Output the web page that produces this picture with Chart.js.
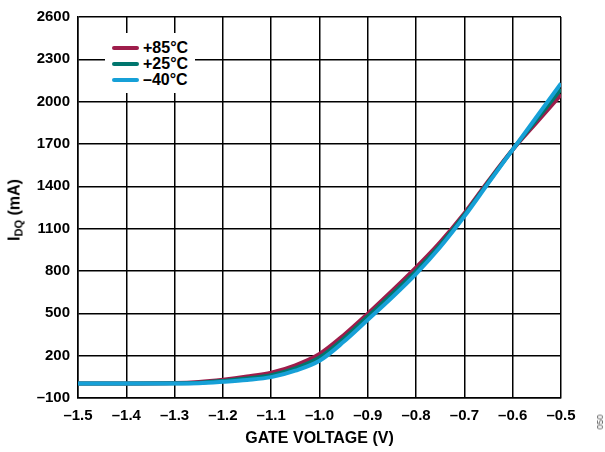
<!DOCTYPE html>
<html>
<head>
<meta charset="utf-8">
<script src="https://cdn.jsdelivr.net/npm/chart.js@4"></script>
<style>
    body { margin: 0; background: #fff; }
    #wrap { position: relative; width: 605px; height: 452px; font-family: "Liberation Sans", Arial, sans-serif; }
    #legend {
        position: absolute; left: 105px; top: 33px; width: 90px; height: 60px;
        background: #fff; font-weight: bold; font-size: 16px; color: #000;
    }
    .item { position: absolute; left: 0; height: 16px; }
    .swatch { position: absolute; left: 7px; width: 27px; height: 4px; border-radius: 2px; }
    .label { position: absolute; left: 38px; line-height: 16px; white-space: nowrap; }
    #ytitle {
        position: absolute; left: 15px; top: 210px; white-space: nowrap;
        transform: translate(-50%, -50%) rotate(-90deg);
        font-weight: bold; font-size: 16px;
    }
    #ytitle sub { font-size: 11px; vertical-align: -3px; }
    #code {
        position: absolute; left: 600px; top: 422px; white-space: nowrap;
        transform: translate(-50%, -50%) rotate(-90deg);
        font-size: 9px; color: #555;
    }
</style>
</head>
<body>
<div id="wrap">
    <canvas id="chart" width="605" height="452"></canvas>
    <div id="legend"></div>
    <div id="ytitle">I<sub>DQ</sub> (mA)</div>
    <div id="code">050</div>
</div>
<script>
// gate voltage (V) and quiescent drain current (mA) per temperature
const gateVoltage = [-1.5, -1.4, -1.3, -1.25, -1.2, -1.15, -1.1, -1.05, -1.0, -0.95, -0.9, -0.85, -0.8, -0.75, -0.7, -0.65, -0.6, -0.55, -0.5]
const idq85 = [3, 3, 6, 14, 30, 52, 80, 132, 212, 345, 498, 658, 825, 1005, 1210, 1440, 1660, 1855, 2050]
const idq25 = [3, 3, 4, 8, 21, 38, 62, 110, 187, 320, 477, 635, 800, 985, 1198, 1432, 1660, 1875, 2090]
const idqM40 = [3, 3, 3, 5, 15, 28, 48, 94, 164, 298, 454, 612, 780, 970, 1187, 1425, 1660, 1895, 2130]

const seriesLabels = ['+85°C', '+25°C', '\u201340°C']
const seriesColors = ['#9e1d4b', '#00766e', '#16a0d7']

const xTickLabels = ['\u20131.5', '\u20131.4', '\u20131.3', '\u20131.2', '\u20131.1', '\u20131.0', '\u20130.9', '\u20130.8', '\u20130.7', '\u20130.6', '\u20130.5']
const yTickLabels = ['\u2013100', '200', '500', '800', '1100', '1400', '1700', '2000', '2300', '2600']

const FONT = '"Liberation Sans", Arial, sans-serif'

function toPoints(values) {
    return gateVoltage.map((v, i) => ({ x: v, y: values[i] }))
}

const datasets = [idq85, idq25, idqM40].map((vals, i) => ({
    label: seriesLabels[i],
    data: toPoints(vals),
    borderColor: seriesColors[i],
    backgroundColor: seriesColors[i],
    borderWidth: 4,
    pointRadius: 0,
    cubicInterpolationMode: 'monotone',
    order: 3 - i   // blue drawn on top
}))

const chart = new Chart(document.getElementById('chart').getContext('2d'), {
    type: 'line',
    data: { datasets: datasets },
    options: {
        responsive: false,
        animation: false,
        layout: { padding: { left: 0, top: 12, right: 44, bottom: 0 } },
        plugins: {
            legend: { display: false },
            tooltip: { enabled: false }
        },
        scales: {
            x: {
                type: 'linear',
                min: -1.5,
                max: -0.5,
                afterFit: s => { s.height = 54 },
                afterBuildTicks: s => {
                    s.ticks = xTickLabels.map((t, i) => ({ value: -1.5 + i * 0.1 }))
                },
                ticks: {
                    padding: 9,
                    color: '#000',
                    font: { family: FONT, size: 15, weight: 'bold' },
                    callback: (v, i) => xTickLabels[i]
                },
                grid: { color: '#000', lineWidth: 1.5, drawTicks: false },
                border: { color: '#000', width: 1.5 },
                title: {
                    display: true,
                    text: 'GATE VOLTAGE (V)',
                    color: '#000',
                    padding: { top: 9 },
                    font: { family: FONT, size: 16, weight: 'bold' }
                }
            },
            y: {
                min: -100,
                max: 2600,
                afterFit: s => { s.width = 78 },
                afterBuildTicks: s => {
                    s.ticks = yTickLabels.map((t, i) => ({ value: -100 + i * 300 }))
                },
                ticks: {
                    padding: 8,
                    color: '#000',
                    font: { family: FONT, size: 15, weight: 'bold' },
                    callback: (v, i) => yTickLabels[i]
                },
                grid: { color: '#000', lineWidth: 1.5, drawTicks: false },
                border: { color: '#000', width: 1.5 }
            }
        }
    }
})

// legend drawn inside the plot, built from the datasets
const legend = document.getElementById('legend')
chart.data.datasets.forEach((ds, i) => {
    const item = document.createElement('div')
    item.className = 'item'
    item.style.top = (7 + i * 16) + 'px'
    item.innerHTML = '<span class="swatch" style="top:6px;background:' + ds.borderColor + '"></span>' +
        '<span class="label">' + ds.label + '</span>'
    legend.appendChild(item)
})
</script>
</body>
</html>
